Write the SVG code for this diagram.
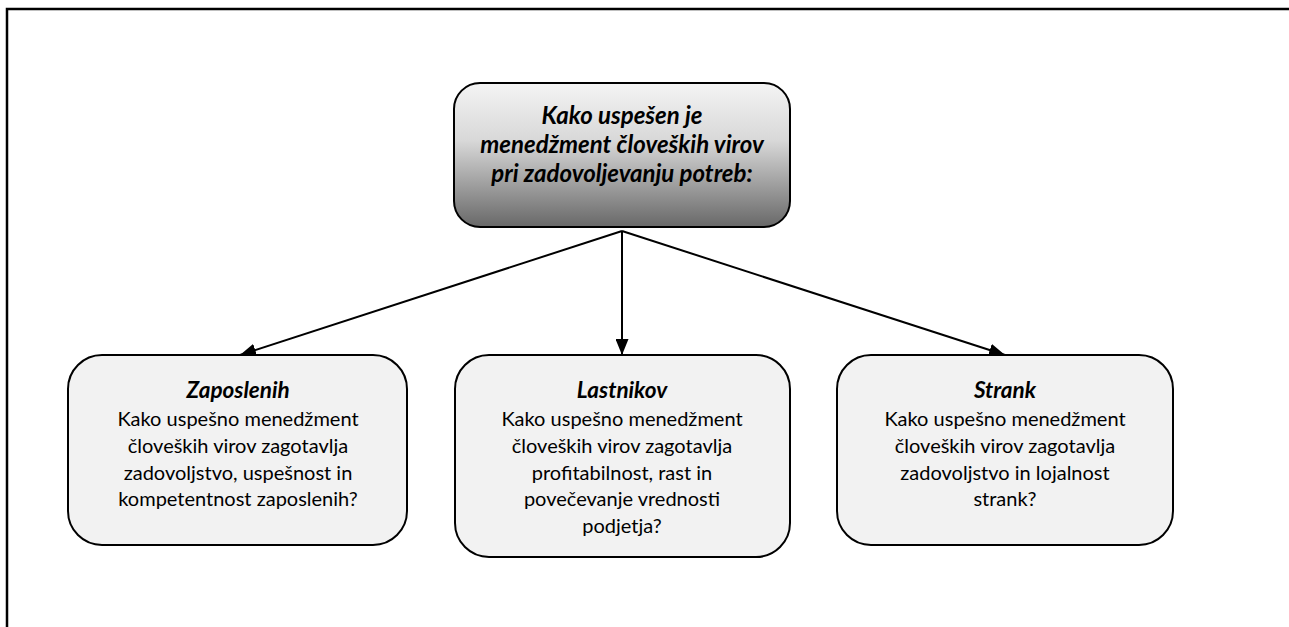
<svg xmlns="http://www.w3.org/2000/svg" width="1289" height="627" viewBox="0 0 1289 627">
<defs>
<linearGradient id="g" x1="0" y1="0" x2="0" y2="1">
<stop offset="0" stop-color="#f4f4f4"/>
<stop offset="0.4" stop-color="#d8d8d8"/>
<stop offset="1" stop-color="#686868"/>
</linearGradient>
<marker id="ah" markerWidth="16" markerHeight="13" refX="16" refY="6.5" orient="auto" markerUnits="userSpaceOnUse">
<path d="M0,0 L16,6.5 L0,13 Z" fill="#000"/>
</marker>
<style>
.box{fill:#f2f2f2;stroke:#000;stroke-width:2}
.top{fill:url(#g);stroke:#000;stroke-width:2}
.t{font-family:Lato,"Liberation Sans",sans-serif;font-size:20px;fill:#000;text-anchor:middle}
.h{font-weight:bold;font-style:italic;font-size:22.5px}
.c{stroke:#000;stroke-width:2;fill:none;marker-end:url(#ah)}
</style>
</defs>
<rect width="1289" height="627" fill="#fff"/>
<path d="M7,627 V9 H1289" fill="none" stroke="#000" stroke-width="2.5"/>
<g id="connectors">
<line class="c" x1="622" y1="231" x2="240" y2="355"/>
<line class="c" x1="622" y1="231" x2="622" y2="355"/>
<line class="c" x1="622" y1="231" x2="1005" y2="355"/>
</g>
<g id="node-top">
<rect class="top" x="454" y="83" width="336" height="144" rx="26"/>
<text class="t h" style="font-size:24px" x="622" y="124">Kako uspešen je</text>
<text class="t h" style="font-size:24px" x="622" y="153">menedžment človeških virov</text>
<text class="t h" style="font-size:24px" x="622" y="182">pri zadovoljevanju potreb:</text>
</g>
<g id="node-zaposlenih">
<rect class="box" x="68" y="355" width="339" height="190" rx="34"/>
<text class="t h" x="238" y="398">Zaposlenih</text>
<text class="t" x="238" y="426">Kako uspešno menedžment</text>
<text class="t" x="238" y="453">človeških virov zagotavlja</text>
<text class="t" x="238" y="480">zadovoljstvo, uspešnost in</text>
<text class="t" x="238" y="506">kompetentnost zaposlenih?</text>
</g>
<g id="node-lastnikov">
<rect class="box" x="455" y="355" width="335" height="202" rx="34"/>
<text class="t h" x="622" y="398">Lastnikov</text>
<text class="t" x="622" y="426">Kako uspešno menedžment</text>
<text class="t" x="622" y="453">človeških virov zagotavlja</text>
<text class="t" x="622" y="480">profitabilnost, rast in</text>
<text class="t" x="622" y="506">povečevanje vrednosti</text>
<text class="t" x="622" y="533">podjetja?</text>
</g>
<g id="node-strank">
<rect class="box" x="837" y="355" width="336" height="190" rx="34"/>
<text class="t h" x="1005" y="398">Strank</text>
<text class="t" x="1005" y="426">Kako uspešno menedžment</text>
<text class="t" x="1005" y="453">človeških virov zagotavlja</text>
<text class="t" x="1005" y="480">zadovoljstvo in lojalnost</text>
<text class="t" x="1005" y="506">strank?</text>
</g>
</svg>
